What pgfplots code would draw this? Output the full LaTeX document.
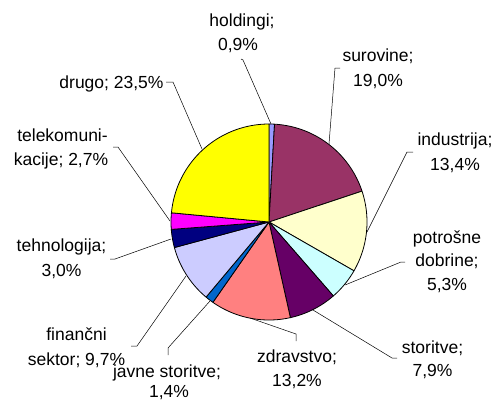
\documentclass[border=0pt]{standalone}
\usepackage{fontspec}
\setmainfont{Liberation Sans}
\usepackage{pgfplots}
\pgfplotsset{compat=1.18}
\definecolor{cHold}{HTML}{9999FF}
\definecolor{cSur}{HTML}{993366}
\definecolor{cInd}{HTML}{FFFFCC}
\definecolor{cPot}{HTML}{CCFFFF}
\definecolor{cSto}{HTML}{660066}
\definecolor{cZdr}{HTML}{FF8080}
\definecolor{cJav}{HTML}{0066CC}
\definecolor{cFin}{HTML}{CCCCFF}
\definecolor{cTeh}{HTML}{000080}
\definecolor{cTel}{HTML}{FF00FF}
\definecolor{cDru}{HTML}{FFFF00}
% #1 cumulative share before the slice (%), #2 share (%), #3 colour
\newcommand{\pieslice}[3]{%
  \pgfmathsetmacro\angA{90-3.6*(#1)}%
  \pgfmathsetmacro\angB{90-3.6*(#1+#2)}%
  \edef\tmp{\noexpand\addplot[fill=#3, draw=black, line width=0.8pt, line join=round, domain=\angB:\angA, samples=60] ({269+98*cos(x)},{222-98*sin(x)}) -- (axis cs:269,222) -- cycle;}%
  \tmp}
\newcommand{\lbl}{\fontsize{17.5bp}{24bp}\selectfont}
\begin{document}
\begin{tikzpicture}
\begin{axis}[
  at={(0,0)}, anchor=south west,
  scale only axis, width=495bp, height=400bp,
  xmin=0, xmax=495, ymin=0, ymax=400, y dir=reverse,
  hide axis, clip=false,
]
\pieslice{0}{0.9}{cHold}
\pieslice{0.9}{19.0}{cSur}
\pieslice{19.9}{13.4}{cInd}
\pieslice{33.3}{5.3}{cPot}
\pieslice{38.6}{7.9}{cSto}
\pieslice{46.5}{13.2}{cZdr}
\pieslice{59.7}{1.4}{cJav}
\pieslice{61.1}{9.7}{cFin}
\pieslice{70.8}{3.0}{cTeh}
\pieslice{73.8}{2.7}{cTel}
\pieslice{76.5}{23.5}{cDru}
% leader lines
\addplot[black, line width=0.5pt] coordinates {(271,124) (243,60) (241,59)};
\addplot[black, line width=0.5pt] coordinates {(329,144) (335,68) (340,68)};
\addplot[black, line width=0.5pt] coordinates {(367,232) (407,152) (413,152)};
\addplot[black, line width=0.5pt] coordinates {(345,285) (401,262) (405,262)};
\addplot[black, line width=0.5pt] coordinates {(313,310) (392,358) (397,358)};
\addplot[black, line width=0.5pt] coordinates {(250,318) (296,334) (296,341)};
\addplot[black, line width=0.5pt] coordinates {(210,301) (168,348) (168,355)};
\addplot[black, line width=0.5pt] coordinates {(186,276) (137,346) (131,346)};
\addplot[black, line width=0.5pt] coordinates {(171,239) (115,259) (110,259)};
\addplot[black, line width=0.5pt] coordinates {(170,221) (118,147) (113,147)};
\addplot[black, line width=0.5pt] coordinates {(202,149) (173,82) (166,82)};
% labels
\node[anchor=base, font=\lbl, inner sep=0] at (axis cs:242,26.5) {holdingi;};
\node[anchor=base, font=\lbl, inner sep=0] at (axis cs:238,50) {0,9\%};
\node[anchor=base, font=\lbl, inner sep=0] at (axis cs:378,61.7) {surovine;};
\node[anchor=base, font=\lbl, inner sep=0] at (axis cs:378,86) {19,0\%};
\node[anchor=base, font=\lbl, inner sep=0] at (axis cs:455,145.5) {industrija;};
\node[anchor=base, font=\lbl, inner sep=0] at (axis cs:455,170) {13,4\%};
\node[anchor=base, font=\lbl, inner sep=0] at (axis cs:447,243.3) {potrošne};
\node[anchor=base, font=\lbl, inner sep=0] at (axis cs:447,266.7) {dobrine;};
\node[anchor=base, font=\lbl, inner sep=0] at (axis cs:447,290) {5,3\%};
\node[anchor=base, font=\lbl, inner sep=0] at (axis cs:432.5,353.3) {storitve;};
\node[anchor=base, font=\lbl, inner sep=0] at (axis cs:432.5,376) {7,9\%};
\node[anchor=base, font=\lbl, inner sep=0] at (axis cs:297,362) {zdravstvo;};
\node[anchor=base, font=\lbl, inner sep=0] at (axis cs:297,386) {13,2\%};
\node[anchor=base, font=\lbl, inner sep=0] at (axis cs:167,377) {javne storitve;};
\node[anchor=base, font=\lbl, inner sep=0] at (axis cs:169,397) {1,4\%};
\node[anchor=base, font=\lbl, inner sep=0] at (axis cs:76.5,340) {finančni};
\node[anchor=base, font=\lbl, inner sep=0] at (axis cs:76.5,365) {sektor; 9,7\%};
\node[anchor=base, font=\lbl, inner sep=0] at (axis cs:61.5,251.7) {tehnologija;};
\node[anchor=base, font=\lbl, inner sep=0] at (axis cs:61.5,276) {3,0\%};
\node[anchor=base, font=\lbl, inner sep=0] at (axis cs:62.5,141.7) {telekomuni-};
\node[anchor=base, font=\lbl, inner sep=0] at (axis cs:61,165) {kacije; 2,7\%};
\node[anchor=base, font=\lbl, inner sep=0] at (axis cs:111.5,88.3) {drugo; 23,5\%};
\end{axis}
\pgfresetboundingbox
\useasboundingbox (0,0) rectangle (495bp,400bp);
\end{tikzpicture}
\end{document}
